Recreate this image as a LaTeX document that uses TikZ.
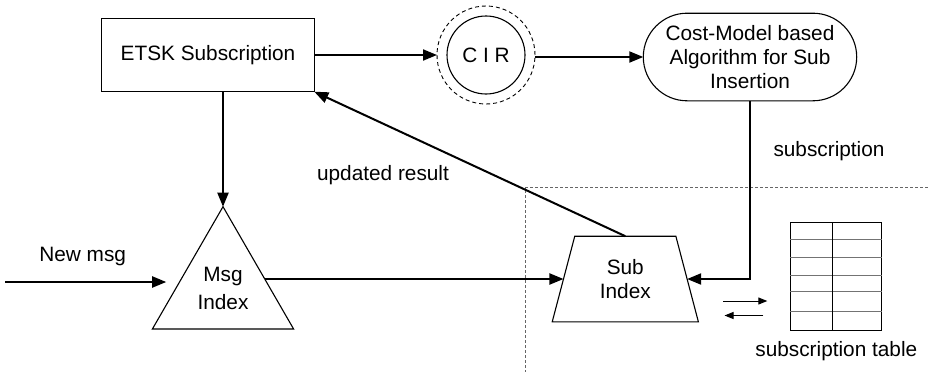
\documentclass[tikz,border=0pt]{standalone}
\usepackage{fontspec}
\setmainfont{Liberation Sans}
\usetikzlibrary{arrows.meta,shapes.geometric,calc}

\begin{document}
\begin{tikzpicture}[x=1pt,y=-1pt,
  txt/.style={font=\fontsize{20.8}{24}\selectfont, inner sep=0pt},
  shapeline/.style={draw=black, line width=1.1pt, outer sep=0pt, inner sep=0pt},
  conn/.style={draw=black, line width=2pt, -{Triangle[length=14pt,width=11pt]}},
  minor/.style={draw=black, line width=1pt, -{Triangle[length=9pt,width=7pt]}},
  region/.style={draw=black!60, line width=0.9pt, dash pattern=on 3pt off 2pt},
  rowline/.style={draw=black!55, line width=1pt}
]
\useasboundingbox (0,0) rectangle (928,372);

% main blocks
\node[shapeline, txt, rectangle, minimum width=212.6pt, minimum height=73.4pt]
  (etsk) at (208,55) {ETSK Subscription};
\node[shapeline, txt, circle, minimum size=78pt] (cir) at (486,55) {C I R};
\node[draw=black, line width=0.9pt, dash pattern=on 4pt off 3pt, circle,
  minimum size=98pt, inner sep=0pt, outer sep=0pt] (ring) at (486,55) {};
\node[shapeline, txt, rectangle, rounded corners=43.8pt, minimum width=213.4pt,
  minimum height=87.6pt, align=center, font=\fontsize{20.8}{24}\selectfont]
  (cost) at (750,57) {Cost-Model based\\Algorithm for Sub\\Insertion};
\node[shapeline, txt, regular polygon, regular polygon sides=3, minimum size=163pt,
  align=center, font=\fontsize{20.8}{27.7}\selectfont]
  (msg) at (223,288.2) {Msg\\Index};
\node[shapeline, txt, trapezium, trapezium left angle=73.9, trapezium right angle=73.9,
  trapezium stretches=true, minimum width=147.3pt, minimum height=85.6pt,
  align=center, font=\fontsize{20.8}{24}\selectfont]
  (sub) at (625.3,279) {Sub\\Index};

% subscription table
\node[draw=black, line width=1.1pt, rectangle, minimum width=91.7pt,
  minimum height=108.4pt, inner sep=0pt, outer sep=0pt] (tbl) at (835.9,276.5) {};
\foreach \dy in {16.8,35,52.7,69.4,88.7}
  \draw[rowline] ($(tbl.north west)+(0,\dy)$) -- ($(tbl.north east)+(0,\dy)$);
\draw[draw=black, line width=1.1pt] ($(tbl.north west)+(42.2,0)$) -- ($(tbl.south west)+(42.2,0)$);

% labels
\node[txt] (lblnew) at (82.7,256.8) {New msg};
\node[txt] (lblupd) at (383,175.5) {updated result};
\node[txt] (lblsub) at (829,151.5) {subscription};
\node[txt] (lbltbl) at (836.3,350.7) {subscription table};

% region boundary
\coordinate (regtop) at (928,187.5);
\coordinate (regbot) at (525.7,372);
\draw[region] (regtop) -| (regbot);

% connectors
\draw[conn] (etsk.east |- ring.west) -- (ring.west);
\draw[conn] (ring.east |- cost.west) -- (cost.west);
\draw[conn] (msg.corner 1 |- etsk.south) -- (msg.corner 1);
\draw[conn] (cost.south) |- (sub.east);
\draw[conn] (sub.north) -- (etsk.south east);

\coordinate (msgL) at ($(msg.corner 1)!0.613!(msg.corner 2)$);
\coordinate (msgR) at ($(msg.corner 1)!0.59!(msg.corner 3)$);
\coordinate (newin) at (5,282);
\draw[conn, shorten >=13.5pt] (newin) -- (newin -| msgL);
\draw[conn] (sub.west -| msgR) -- (sub.west);

% exchange with the table
\coordinate (ra) at (723.3,301);
\coordinate (rb) at (767.3,301);
\coordinate (la) at (763.3,315.5);
\coordinate (lb) at (724.5,315.5);
\draw[minor] (ra) -- (rb);
\draw[minor] (la) -- (lb);
\end{tikzpicture}
\end{document}
